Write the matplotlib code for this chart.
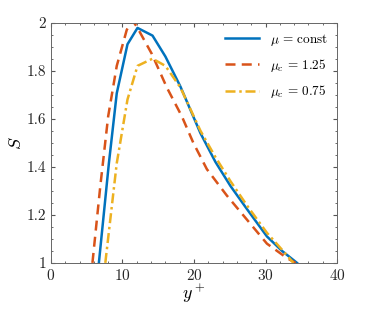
import numpy as np
import matplotlib
matplotlib.use('Agg')
import matplotlib.pyplot as plt
from matplotlib.ticker import MultipleLocator

plt.rcParams['font.family'] = 'serif'
plt.rcParams['font.serif'] = ['cmr10']
plt.rcParams['mathtext.fontset'] = 'cm'
plt.rcParams['axes.formatter.use_mathtext'] = True

# 数据
y_const = [6.7, 8.1, 9.2, 10.7, 12.1, 14.2, 16.0, 18.1, 20.9, 23.0, 25.1, 27.5, 30.2, 32.3, 34.4]
s_const = [1.0, 1.415, 1.706, 1.91, 1.978, 1.946, 1.859, 1.734, 1.54, 1.42, 1.32, 1.22, 1.11, 1.05, 1.0]

y_125 = [5.8, 6.9, 8.0, 9.2, 10.6, 11.4, 12.1, 14.1, 16.2, 18.3, 19.9, 21.8, 24.6, 27.4, 30.2, 33.0, 34.2]
s_125 = [1.0, 1.32, 1.61, 1.82, 1.97, 2.01, 1.978, 1.87, 1.73, 1.61, 1.5, 1.39, 1.28, 1.18, 1.08, 1.02, 1.0]

y_075 = [7.6, 9.2, 10.7, 12.1, 14.2, 16.0, 18.1, 20.9, 23.0, 25.1, 27.5, 30.2, 32.3, 33.9]
s_075 = [1.0, 1.415, 1.68, 1.82, 1.85, 1.82, 1.73, 1.55, 1.44, 1.34, 1.235, 1.125, 1.055, 1.0]

fig = plt.figure(figsize=(3.72, 3.10), dpi=100)
ax = fig.add_axes([0.137, 0.152, 0.769, 0.775])

ax.plot(y_const, s_const, '-', color='#0072BD', lw=1.8, label=r'$\mu\,=\,\mathrm{const}$')
ax.plot(y_125, s_125, '--', color='#D95319', lw=1.8, dashes=(4, 2.5), label=r'$\mu_c\,=\,1.25$')
ax.plot(y_075, s_075, '-.', color='#EDB120', lw=1.8, dashes=(4, 1.5, 1, 1.5), label=r'$\mu_c\,=\,0.75$')

ax.set_xlim(0, 40)
ax.set_ylim(1, 2)
ax.set_xticks([0, 10, 20, 30, 40])
ax.set_yticks([1, 1.2, 1.4, 1.6, 1.8, 2])
ax.set_yticklabels(['1', '1.2', '1.4', '1.6', '1.8', '2'])
ax.xaxis.set_minor_locator(MultipleLocator(2))
ax.yaxis.set_minor_locator(MultipleLocator(0.05))
ax.tick_params(which='both', direction='in', top=True, right=True, color='#555555',
               labelcolor='#262626', labelsize=11)
ax.tick_params(which='major', length=3)
ax.tick_params(which='minor', length=1.5)
for sp in ax.spines.values():
    sp.set_color('#666666')
    sp.set_linewidth(0.7)

ax.set_xlabel(r'$y^+$', fontsize=13, labelpad=0)
ax.set_ylabel(r'$S$', fontsize=13, labelpad=2)

ax.legend(loc='upper right', frameon=False, fontsize=9.5, handlelength=2.6, borderaxespad=0.3, labelspacing=0.7)

fig.savefig('out.png', dpi=100)
